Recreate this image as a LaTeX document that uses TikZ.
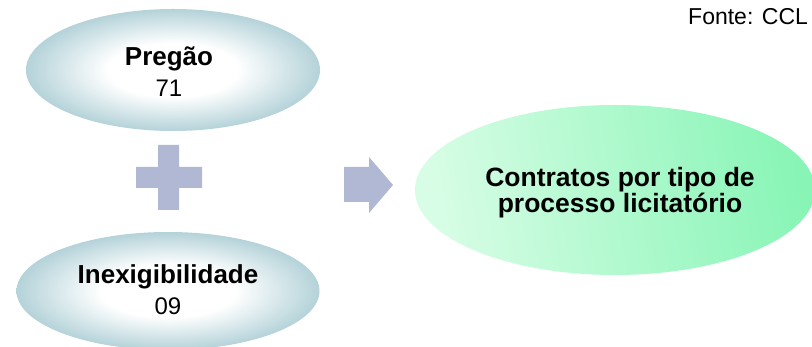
\documentclass[tikz,border=0pt]{standalone}
\usepackage{fontspec}
\setmainfont{Liberation Sans}
\usetikzlibrary{shapes.geometric}
\definecolor{tealedge}{RGB}{100,163,176}
\definecolor{shapegrey}{RGB}{176,184,212}
\definecolor{greenL}{RGB}{216,253,230}
\definecolor{greenR}{RGB}{136,245,182}
\pgfdeclareradialshading{tealglow}{\pgfpoint{0bp}{0bp}}{color(0bp)=(white); color(11bp)=(white); color(40bp)=(tealedge); color(100bp)=(tealedge)}
\begin{document}
\begin{tikzpicture}[x=1pt,y=-1pt,
  tealell/.style={ellipse, shading=tealglow, inner sep=0pt},
  greenell/.style={ellipse, left color=greenL, right color=greenR, shading angle=100,
    inner sep=0pt},
  tealtxt/.style={align=center, inner sep=0pt, font=\fontsize{26}{31}\selectfont},
  greentxt/.style={align=center, inner sep=0pt, font=\fontsize{26.5}{26}\selectfont\bfseries},
  greyshape/.style={fill=shapegrey, draw=none}]
\useasboundingbox (0,0) rectangle (812,347);
\node[tealell, minimum width=294pt, minimum height=122pt] (pregao) at (173,70) {};
\node[tealtxt] (pregaotxt) at ([xshift=-4pt,yshift=-2pt]pregao.center)
  {\textbf{Pregão}\\{\fontsize{24}{31}\selectfont 71}};
\node[tealell, minimum width=303pt, minimum height=118pt] (inex) at (168,291) {};
\node[tealtxt] (inextxt) at ([yshift=1pt]inex.center)
  {\textbf{Inexigibilidade}\\{\fontsize{24}{29}\selectfont 09}};
\node[greenell, minimum width=400pt, minimum height=170pt] (contratos) at (615,190) {};
\node[greentxt] (contratostxt) at ([xshift=5pt,yshift=-3pt]contratos.center)
  {Contratos por tipo de\\processo licitatório};
% plus sign
\path[greyshape] (158,145) -- (179,145) -- (179,167) -- (202,167) -- (202,188) -- (179,188)
  -- (179,210) -- (158,210) -- (158,188) -- (136,188) -- (136,167) -- (158,167) -- cycle;
\coordinate (plus) at (169,178);
% arrow
\path[greyshape] (344,167) -- (369,167) -- (369,157) -- (393,185) -- (369,213) -- (369,202)
  -- (344,202) -- cycle;
\coordinate (arrow) at (368,185);
\node[anchor=base west, inner sep=0pt, font=\fontsize{23}{27}\selectfont] (fonte) at (688,25) {Fonte: CCL};
\end{tikzpicture}
\end{document}
